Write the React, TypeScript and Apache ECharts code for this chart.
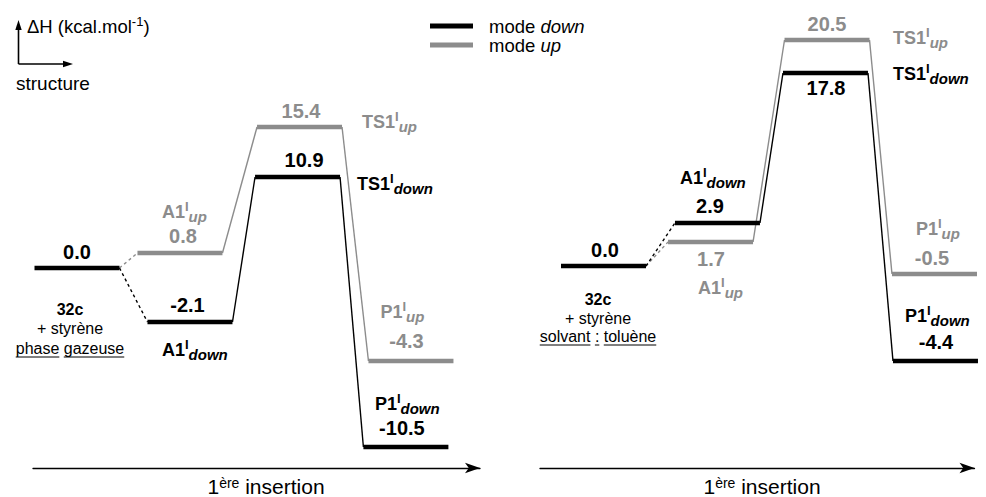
import React, { useEffect, useRef } from "react";
import * as echarts from "echarts";

// ---------------- data ----------------
const stageNames = ["", "A1", "TS1", "P1"];
// enthalpies (kcal/mol) shown as labels
const gasDownEnergy = [0.0, -2.1, 10.9, -10.5];
const gasUpEnergy = [0.0, 0.8, 15.4, -4.3];
const solDownEnergy = [0.0, 2.9, 17.8, -4.4];
const solUpEnergy = [0.0, 1.7, 20.5, -0.5];
// schematic drawing heights of the levels (the diagram is not to scale)
const gasDownLevel = [0, -5.4, 9.1, -17.9];
const gasUpLevel = [0, 1.5, 14.1, -9.3];
const solDownLevel = [0, 4.3, 19.3, -9.5];
const solUpLevel = [0, 2.4, 22.6, -0.8];
const gasBlock = ["32c", "+ styrène", "phase gazeuse"];
const solBlock = ["32c", "+ styrène", "solvant : toluène"];
const legendNames = ["mode down", "mode up"];
const axisTitle = "1ère insertion";

// ---------------- layout / style ----------------
const FONT = "'Liberation Sans', Arial, sans-serif";
const BLACK = "#000000";
const GRAY = "#8c8c8c";
const HALF = 42.5; // half width of a level in px
const STAGE_PX = 110;

const nudge: any = {
  gas: { down: [0, 0.027, 0.005, -0.01], up: [0, -0.064, 0.023, 0.036] },
  sol: { down: [0, 0.036, 0.018, 0.018], up: [0, -0.027, 0.032, 0.009] },
};

// label offsets relative to the level centre (px)
const labelSpec: any = {
  gas: {
    down: [
      { value: [0, -16], block: { dx: -7, dys: [41, 60, 80] } },
      { value: [-2.5, -17], name: [-28, 28] },
      { value: [6.5, -17], name: [59.5, 7] },
      { value: [-4, -19], name: [-31, -43] },
    ],
    up: [
      null,
      { value: [3, -17], name: [-18, -41] },
      { value: [1.5, -16], name: [62.5, -5] },
      { value: [-4.5, -20], name: [-30.5, -49] },
    ],
  },
  sol: {
    down: [
      { value: [1.5, -16], block: { dx: -5.5, dys: [33, 52, 70] } },
      { value: [-7.5, -17], name: [-37.5, -45] },
      { value: [0.5, 15], name: [67.5, 1] },
      { value: [0.5, -19], name: [-30.5, -45] },
    ],
    up: [
      null,
      { value: [0.5, 17], name: [-12.5, 46] },
      { value: [0, -16], name: [66, -2] },
      { value: [-2.5, -16], name: [-18.5, -45] },
    ],
  },
};

const panels: any = {
  gas: { index: 0, down: { e: gasDownEnergy, l: gasDownLevel }, up: { e: gasUpEnergy, l: gasUpLevel }, block: gasBlock },
  sol: { index: 1, down: { e: solDownEnergy, l: solDownLevel }, up: { e: solUpEnergy, l: solUpLevel }, block: solBlock },
};

let measureCtx: CanvasRenderingContext2D | null = null;
function textWidth(t: string, size: number, weight = "normal") {
  if (!measureCtx) measureCtx = document.createElement("canvas").getContext("2d");
  measureCtx!.font = `${weight} ${size}px "Liberation Sans"`;
  return measureCtx!.measureText(t).width;
}

function stageX(p: string, mode: string, i: number) {
  return i + nudge[p][mode][i];
}

function nameRich(color: string) {
  return {
    m: { fontFamily: FONT, fontSize: 18, fontWeight: "bold", fill: color, lineHeight: 24, verticalAlign: "middle" },
    s: { fontFamily: FONT, fontSize: 13, fontWeight: "bold", fill: color, lineHeight: 12, verticalAlign: "top" },
    d: { fontFamily: FONT, fontSize: 15, fontWeight: "bold", fontStyle: "italic", fill: color, lineHeight: 18, verticalAlign: "bottom" },
  };
}

function levelSeries(p: string, mode: string) {
  const pan = panels[p];
  const lv = pan[mode].l as number[];
  const color = mode === "down" ? BLACK : GRAY;
  const start = mode === "down" ? 0 : 1;
  const data = lv.slice(start).map((l, k) => [stageX(p, mode, k + start), l]);
  return {
    type: "custom",
    name: mode === "down" ? legendNames[0] : legendNames[1],
    xAxisIndex: pan.index,
    yAxisIndex: pan.index,
    z: 3,
    silent: true,
    itemStyle: { color },
    data,
    renderItem: (params: any, api: any) => {
      const c = api.coord([api.value(0), api.value(1)]);
      return {
        type: "line",
        shape: { x1: c[0] - HALF, y1: c[1], x2: c[0] + HALF, y2: c[1] },
        style: { stroke: color, lineWidth: 4.5 },
      };
    },
  };
}

function connectorSeries(p: string, mode: string) {
  const pan = panels[p];
  const lv = pan[mode].l as number[];
  const color = mode === "down" ? BLACK : GRAY;
  const data: number[][] = [];
  for (let i = 0; i < lv.length - 1; i++) {
    const x1 = i === 0 ? stageX(p, "down", 0) : stageX(p, mode, i);
    const l1 = i === 0 ? pan.down.l[0] : lv[i];
    data.push([x1, l1, stageX(p, mode, i + 1), lv[i + 1]]);
  }
  return {
    type: "custom",
    name: "connector-" + mode,
    xAxisIndex: pan.index,
    yAxisIndex: pan.index,
    z: 2,
    silent: true,
    encode: { x: [0, 2], y: [1, 3] },
    data,
    renderItem: (params: any, api: any) => {
      const a = api.coord([api.value(0), api.value(1)]);
      const b = api.coord([api.value(2), api.value(3)]);
      return {
        type: "line",
        shape: { x1: a[0] + HALF, y1: a[1], x2: b[0] - HALF, y2: b[1] },
        style: {
          stroke: color,
          lineWidth: 1.4,
          lineDash: params.dataIndex === 0 ? [3, 3] : null,
        },
      };
    },
  };
}

function labelSeries(p: string, mode: string) {
  const pan = panels[p];
  const lv = pan[mode].l as number[];
  const en = pan[mode].e as number[];
  const color = mode === "down" ? BLACK : GRAY;
  const spec = labelSpec[p][mode];
  const data = lv.map((l, i) => [stageX(p, mode, i), l]);
  return {
    type: "custom",
    name: "labels-" + mode,
    xAxisIndex: pan.index,
    yAxisIndex: pan.index,
    z: 5,
    silent: true,
    data,
    renderItem: (params: any, api: any) => {
      const i = params.dataIndex;
      const s = spec[i];
      const children: any[] = [];
      if (!s) return { type: "group", children };
      const c = api.coord([api.value(0), api.value(1)]);
      if (s.value) {
        children.push({
          type: "text",
          x: c[0] + s.value[0],
          y: c[1] + s.value[1],
          style: {
            text: en[i].toFixed(1),
            fill: color,
            fontFamily: FONT,
            fontSize: 20,
            fontWeight: "bold",
            align: "center",
            verticalAlign: "middle",
          },
        });
      }
      if (s.name) {
        children.push({
          type: "text",
          x: c[0] + s.name[0],
          y: c[1] + s.name[1],
          style: {
            text: `{m|${stageNames[i]}}{s|I}{d|${mode}}`,
            rich: nameRich(color),
            fill: color,
            align: "left",
            verticalAlign: "middle",
          },
        });
      }
      if (s.block) {
        const cx = c[0] + s.block.dx;
        const lines = pan.block as string[];
        lines.forEach((t, k) => {
          const bold = k === 0;
          children.push({
            type: "text",
            x: cx,
            y: c[1] + s.block.dys[k],
            style: {
              text: t,
              fill: BLACK,
              fontFamily: FONT,
              fontSize: 16,
              fontWeight: bold ? "bold" : "normal",
              align: "center",
              verticalAlign: "middle",
            },
          });
          if (k === lines.length - 1) {
            const W = textWidth(t, 16);
            const x0 = cx - W / 2;
            const uy = c[1] + s.block.dys[k] + 9;
            t.split(" ").forEach((w, wi, arr) => {
              const prefix = arr.slice(0, wi).join(" ") + (wi > 0 ? " " : "");
              const pos = textWidth(prefix, 16);
              const ww = textWidth(w, 16);
              children.push({
                type: "line",
                shape: { x1: x0 + pos, y1: uy, x2: x0 + pos + ww, y2: uy },
                style: { stroke: BLACK, lineWidth: 1 },
              });
            });
          }
        });
      }
      return { type: "group", children };
    },
  };
}

function axisX(gridIndex: number, min: number, max: number) {
  return {
    type: "value",
    gridIndex,
    min,
    max,
    axisLine: {
      show: true,
      onZero: false,
      symbol: ["none", "arrow"],
      symbolSize: [8, 15],
      lineStyle: { color: BLACK, width: 1.3 },
    },
    axisTick: { show: false },
    axisLabel: { show: false },
    splitLine: { show: false },
  };
}

function buildOption() {
  const gasMin = -0.4;
  const gasMax = gasMin + 447 / STAGE_PX;
  const solMin = -(603.5 - 540) / STAGE_PX;
  const solMax = solMin + 434.5 / STAGE_PX;
  const titleRich = {
    s: { fontFamily: FONT, fontSize: 13, fill: BLACK, lineHeight: 12, verticalAlign: "top" },
  };
  return {
    animation: false,
    backgroundColor: "#ffffff",
    grid: [
      { left: 33, top: 8, width: 447, height: 460 },
      { left: 540, top: 6, width: 434.5, height: 462 },
    ],
    xAxis: [axisX(0, gasMin, gasMax), axisX(1, solMin, solMax)],
    yAxis: [
      { type: "value", gridIndex: 0, min: -20, max: 26, show: false },
      { type: "value", gridIndex: 1, min: -20.2, max: 26, show: false },
    ],
    legend: {
      data: legendNames,
      orient: "vertical",
      left: 430,
      top: 16.5,
      padding: 0,
      itemGap: 0,
      itemWidth: 43,
      itemHeight: 5,
      icon: "rect",
      selectedMode: false,
      formatter: (name: string) => name.replace(/^mode (.*)$/, "mode {i|$1}"),
      textStyle: {
        fontFamily: FONT,
        fontSize: 18.5,
        color: BLACK,
        lineHeight: 19,
        padding: [0, 0, 0, 11],
        rich: { i: { fontFamily: FONT, fontSize: 18.5, fontStyle: "italic", color: BLACK, lineHeight: 19 } },
      },
    },
    graphic: [
      { type: "line", shape: { x1: 18.5, y1: 64, x2: 18.5, y2: 28 }, style: { stroke: BLACK, lineWidth: 1.6 } },
      { type: "polygon", shape: { points: [[18.5, 20], [15.3, 30], [21.7, 30]] }, style: { fill: BLACK } },
      { type: "line", shape: { x1: 18.5, y1: 64, x2: 64, y2: 64 }, style: { stroke: BLACK, lineWidth: 1.6 } },
      { type: "polygon", shape: { points: [[73, 64], [63, 60.8], [63, 67.2]] }, style: { fill: BLACK } },
      {
        type: "text",
        x: 27,
        y: 26,
        style: {
          text: "ΔH (kcal.mol{s|-1})",
          rich: titleRich,
          fill: BLACK,
          fontFamily: FONT,
          fontSize: 18.5,
          lineHeight: 22,
          align: "left",
          verticalAlign: "middle",
        },
      },
      {
        type: "text",
        x: 16,
        y: 83,
        style: { text: "structure", fill: BLACK, fontFamily: FONT, fontSize: 19, align: "left", verticalAlign: "middle" },
      },
      ...[266, 762].map((x) => ({
        type: "text",
        x,
        y: 486,
        style: {
          text: axisTitle.replace(/^1(ère)(.*)$/, "1{s|$1}$2"),
          rich: { s: { fontFamily: FONT, fontSize: 14, fill: BLACK, lineHeight: 13, verticalAlign: "top" } },
          fill: BLACK,
          fontFamily: FONT,
          fontSize: 21,
          lineHeight: 21,
          align: "center",
          verticalAlign: "middle",
        },
      })),
    ],
    series: [
      connectorSeries("gas", "up"),
      connectorSeries("gas", "down"),
      levelSeries("gas", "up"),
      levelSeries("gas", "down"),
      labelSeries("gas", "up"),
      labelSeries("gas", "down"),
      connectorSeries("sol", "up"),
      connectorSeries("sol", "down"),
      levelSeries("sol", "up"),
      levelSeries("sol", "down"),
      labelSeries("sol", "up"),
      labelSeries("sol", "down"),
    ],
  };
}

export default function App() {
  const ref = useRef<HTMLDivElement>(null);
  useEffect(() => {
    const chart = echarts.init(ref.current!, null, { renderer: "svg" });
    chart.setOption(buildOption() as any);
    return () => chart.dispose();
  }, []);
  return (
    <div
      ref={ref}
      style={{ position: "fixed", left: 0, top: 0, width: 986, height: 497, background: "#fff" }}
    />
  );
}
